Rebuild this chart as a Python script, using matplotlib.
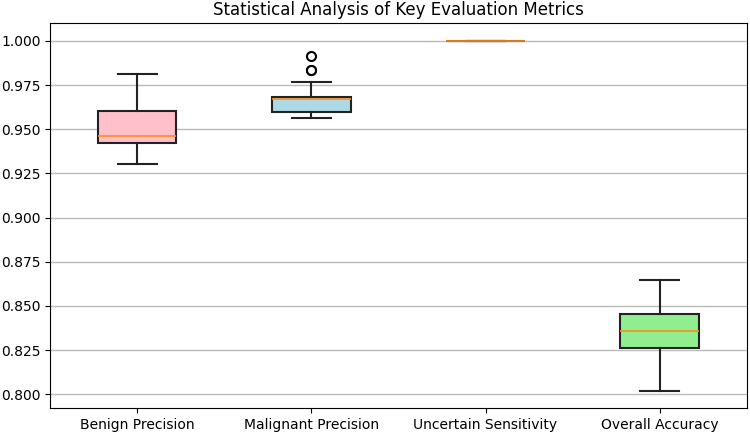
import matplotlib
matplotlib.use('Agg')
import matplotlib.pyplot as plt


# summary values
metrics = ['Benign Precision', 'Malignant Precision',
           'Uncertain Sensitivity', 'Overall Accuracy']
whislo = [0.9301, 0.9563, 1.0, 0.8019]
q1 = [0.9424, 0.9597, 1.0, 0.8259]
med = [0.9461, 0.9669, 1.0, 0.8356]
q3 = [0.9603, 0.9684, 1.0, 0.8453]
whishi = [0.9812, 0.9765, 1.0, 0.8645]
fliers = [[], [0.9917, 0.9837, 0.9833], [], []]
box_colors = ['pink', 'lightblue', 'lightyellow', 'lightgreen']


def build_stats():
    stats = []
    for i in range(len(metrics)):
        stats.append({'label': metrics[i],
                      'whislo': whislo[i],
                      'q1': q1[i],
                      'med': med[i],
                      'q3': q3[i],
                      'whishi': whishi[i],
                      'fliers': fliers[i]})
    return stats


fig, ax = plt.subplots(figsize=(7.5, 4.34), dpi=100)
fig.subplots_adjust(left=0.067, right=0.9956, bottom=0.059, top=0.946)

bp = ax.bxp(build_stats(), patch_artist=True, widths=0.45,
            boxprops=dict(linewidth=1.5, edgecolor='#222222'),
            whiskerprops=dict(linewidth=1.5, color='#222222'),
            capprops=dict(linewidth=1.5, color='#222222'),
            medianprops=dict(color='#ff8c1a', linewidth=1.2),
            flierprops=dict(marker='o', markerfacecolor='white',
                            markeredgecolor='black', markeredgewidth=1.5,
                            markersize=6.5))
for patch, color in zip(bp['boxes'], box_colors):
    patch.set_facecolor(color)

ax.set_title('Statistical Analysis of Key Evaluation Metrics', fontsize=12)
ax.yaxis.grid(True, color='#bbbbbb', linewidth=1.0)
ax.set_axisbelow(True)
ax.tick_params(labelsize=10)

fig.savefig('out.png', dpi=100)
